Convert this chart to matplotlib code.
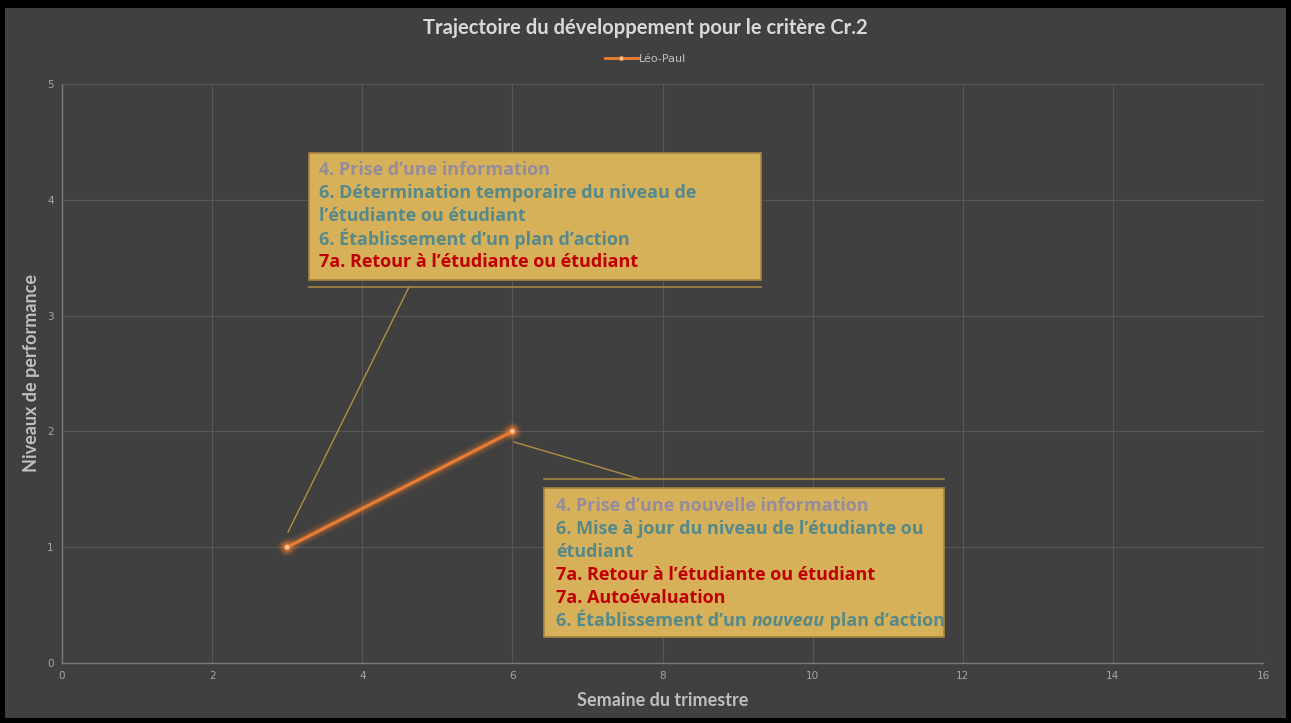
import matplotlib
matplotlib.use("Agg")
import matplotlib.pyplot as plt
import matplotlib.patheffects as pe
from matplotlib.patches import Rectangle
from matplotlib.lines import Line2D

# Trajectoire de Léo-Paul (semaine, niveau)
semaines = [3, 6]
niveaux = [1, 2]
serie = "Léo-Paul"

x_ticks = list(range(0, 17, 2))
y_ticks = list(range(0, 6))

# Lignes des bulles: (texte, couleur)
GRIS = "#958c9c"
VERT = "#55898a"
ROUGE = "#c00000"
bulle1 = [("4. Prise d\u2019une information", GRIS),
          ("6. Détermination temporaire du niveau de", VERT),
          ("l\u2019étudiante ou étudiant", VERT),
          ("6. Établissement d\u2019un plan d\u2019action", VERT),
          ("7a. Retour à l\u2019étudiante ou étudiant", ROUGE)]
bulle2 = [("4. Prise d\u2019une nouvelle information", GRIS),
          ("6. Mise à jour du niveau de l\u2019étudiante ou", VERT),
          ("étudiant", VERT),
          ("7a. Retour à l\u2019étudiante ou étudiant", ROUGE),
          ("7a. Autoévaluation", ROUGE)]
derniere = [("6. Établissement d\u2019un ", "normal"), ("nouveau", "italic"),
            (" plan d\u2019action", "normal")]

FOND = "#404040"
ORANGE = "#ed7d31"
OR = "#d7b15a"
FONT = "Lato"
FBULLE = "Open Sans"
TB = 13

fig = plt.figure(figsize=(12.91, 7.23), dpi=100, facecolor="black")
W, H = 1291, 723
fig.add_artist(Rectangle((5 / W, 5 / H), (W - 10) / W, (H - 13) / H,
                         transform=fig.transFigure, fc=FOND, ec="none", zorder=0))

ax = fig.add_axes([62 / W, 1 - 663 / H, (1263 - 62) / W, (663 - 84) / H])
ax.set_facecolor(FOND)
ax.set_xlim(0, 16)
ax.set_ylim(0, 5)
ax.set_xticks(x_ticks)
ax.set_yticks(y_ticks)
ax.tick_params(length=0, colors="#a6a6a6", labelsize=7.5, pad=6)
ax.grid(color="#575757", lw=0.8)
ax.set_axisbelow(True)
for s in ["top", "right"]:
    ax.spines[s].set_visible(False)
for s in ["left", "bottom"]:
    ax.spines[s].set_color("#7a7a7a")
    ax.spines[s].set_linewidth(1.0)

ax.set_xlabel("Semaine du trimestre", color="#bfbfbf", fontsize=13,
              fontweight="bold", labelpad=8, fontname=FONT)
ax.set_ylabel("Niveaux de performance", color="#bfbfbf", fontsize=13,
              fontweight="bold", labelpad=5, fontname=FONT)

ax.plot(semaines, niveaux, color=ORANGE, lw=2, marker="o", ms=4,
        mfc="#f8cbad", mec=ORANGE, mew=0.8, zorder=5,
        path_effects=[pe.Stroke(linewidth=10, foreground=ORANGE, alpha=0.08),
                      pe.Stroke(linewidth=7, foreground=ORANGE, alpha=0.15),
                      pe.Stroke(linewidth=4, foreground=ORANGE, alpha=0.3),
                      pe.Normal()])

fig.text(0.5, 1 - 28 / H, "Trajectoire du développement pour le critère Cr.2",
         ha="center", va="center", color="#d9d9d9", fontsize=14.5,
         fontweight="bold", fontname=FONT)
poignee = Line2D([], [], color=ORANGE, lw=2, marker="o", ms=3,
                 mfc="#f8cbad", mec=ORANGE, mew=0.6)
fig.legend(handles=[poignee], labels=[serie], loc="center",
           bbox_to_anchor=(0.5, 1 - 59 / H), frameon=False, fontsize=8,
           labelcolor="#bfbfbf", handlelength=3, handletextpad=0.1)


def px(x, y):
    return (x - 62) / 75.06, (663 - y) / 115.8


def bulle(x0, y0, x1, y1, trait_y, fleche, lignes, tx, ty0):
    a, b = px(x0, y1)
    c, d = px(x1, y0)
    ax.add_patch(Rectangle((a, b), c - a, d - b, fc=OR, ec="#a7853f", lw=1.2, zorder=6))
    ya = px(0, trait_y)[1]
    ax.plot([a, c], [ya, ya], color="#a7853f", lw=1.2, zorder=6)
    p0, p1 = px(*fleche[0]), px(*fleche[1])
    ax.plot([p0[0], p1[0]], [p0[1], p1[1]], color="#b09040", lw=1, zorder=4)
    for i, (t, c_) in enumerate(lignes):
        x, y = px(tx, ty0 + 23 * i)
        ax.text(x, y, t, color=c_, fontsize=TB, fontweight="bold",
                fontname=FBULLE, va="center", ha="left", zorder=7)


bulle(309, 153, 761, 280, 287, [(409, 287), (288, 532)], bulle1, 319, 170)
bulle(544, 488, 944, 637, 479, [(514, 442), (640, 479)], bulle2, 556, 506)

# dernière ligne avec « nouveau » en italique
x, y = px(556, 506 + 23 * 5)
prec = ax.text(x, y, derniere[0][0], color=VERT, fontsize=TB, fontweight="bold",
               fontname=FBULLE, va="center", ha="left", zorder=7)
for t, style in derniere[1:]:
    prec = ax.annotate(t, xy=(1, 0), xycoords=prec, va="bottom", ha="left",
                       color=VERT, fontsize=TB, fontweight="bold",
                       fontstyle=style, fontname=FBULLE, zorder=7)

fig.savefig("out.png", dpi=100, facecolor="black")
